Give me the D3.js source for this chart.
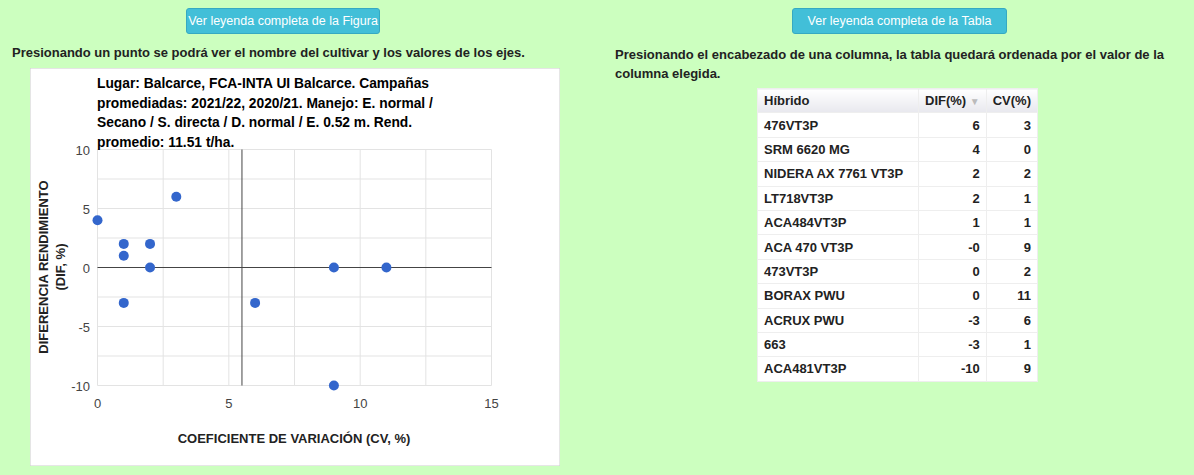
<!DOCTYPE html>
<html><head><meta charset="utf-8">
<script src="https://cdn.jsdelivr.net/npm/d3@7"></script>
<style>
body{margin:0;background:#ccffbf;font-family:Arial,"Liberation Sans",sans-serif;}
.btn{position:absolute;height:24px;line-height:24px;background:#42bfd8;color:#fff;font-size:12.5px;text-align:center;border-radius:3px;border:1px solid #36a9c2;white-space:nowrap;overflow:hidden;}
.note{position:absolute;font-size:13px;font-weight:bold;color:#222;line-height:19px;}
table{position:absolute;left:757px;top:88px;border-collapse:collapse;font-size:13px;font-weight:bold;color:#222;background:#fff;border:1px solid #ccc;}
td,th{height:23.4px;padding:0 6px;border:1px solid #eee;}
th{text-align:left;background:linear-gradient(#fff,#e8e8ee);font-weight:bold;}
td.n{text-align:right;}
</style></head><body>
<div class="btn" style="left:186px;top:8px;width:192px">Ver leyenda completa de la Figura</div>
<div class="btn" style="left:792px;top:8px;width:213px">Ver leyenda completa de la Tabla</div>
<div class="note" style="left:12px;top:43px">Presionando un punto se podrá ver el nombre del cultivar y los valores de los ejes.</div>
<div class="note" style="left:615px;top:45px;width:570px">Presionando el encabezado de una columna, la tabla quedará ordenada por el valor de la columna elegida.</div>
<svg id="c" style="position:absolute;left:30px;top:68px" width="530" height="398"></svg>
<table id="t"></table>
<script>
const hibridos=["476VT3P","SRM 6620 MG","NIDERA AX 7761 VT3P","LT718VT3P","ACA484VT3P","ACA 470 VT3P","473VT3P","BORAX PWU","ACRUX PWU","663","ACA481VT3P"];
const dif=[6,4,2,2,1,-0,0,0,-3,-3,-10];
const difLabel=["6","4","2","2","1","-0","0","0","-3","-3","-10"];
const cv=[3,0,2,1,1,9,2,11,6,1,9];
const xTicks=[0,5,10,15];
const yTicks=[-10,-5,0,5,10];
const titleLines=["Lugar: Balcarce, FCA-INTA UI Balcarce. Campañas","promediadas: 2021/22, 2020/21. Manejo: E. normal /","Secano / S. directa / D. normal / E. 0.52 m. Rend.","promedio: 11.51 t/ha."];
const cvRef=5.5;

const svg=d3.select("#c");
svg.append("rect").attr("width",530).attr("height",398).attr("fill","#fff").attr("stroke","#ccc");
const ox=-30,oy=-68;
const g=svg.append("g").attr("transform",`translate(${ox},${oy})`);
const x=d3.scaleLinear().domain([0,15]).range([97.5,491.5]);
const y=d3.scaleLinear().domain([-10,10]).range([385.5,149.5]);
d3.range(0,15.1,2.5).forEach(v=>g.append("line").attr("x1",x(v)).attr("x2",x(v)).attr("y1",y(-10)).attr("y2",y(10)).attr("stroke","#e3e3e3"));
d3.range(-10,10.1,2.5).forEach(v=>g.append("line").attr("y1",y(v)).attr("y2",y(v)).attr("x1",x(0)).attr("x2",x(15)).attr("stroke","#e3e3e3"));
g.append("line").attr("x1",x(0)).attr("x2",x(15)).attr("y1",y(0)).attr("y2",y(0)).attr("stroke","#444");
g.append("line").attr("x1",x(cvRef)).attr("x2",x(cvRef)).attr("y1",y(-10)).attr("y2",y(10)).attr("stroke","#444");
xTicks.forEach(v=>g.append("text").attr("x",x(v)).attr("y",408).attr("text-anchor","middle").attr("font-size",13).attr("fill","#444").text(v));
yTicks.forEach(v=>g.append("text").attr("x",90).attr("y",y(v)+5).attr("text-anchor","end").attr("font-size",13).attr("fill","#444").text(v));
cv.forEach((c,i)=>g.append("circle").attr("cx",x(c)).attr("cy",y(dif[i])).attr("r",5).attr("fill","#3366cc"));
titleLines.forEach((t,i)=>g.append("text").attr("x",97).attr("y",88+i*19.5).attr("font-size",13.8).attr("font-weight","bold").attr("fill","#000").text(t));
g.append("text").attr("x",294).attr("y",443).attr("text-anchor","middle").attr("font-size",13).attr("font-weight","bold").attr("fill","#222").text("COEFICIENTE DE VARIACIÓN (CV, %)");
const yl=g.append("text").attr("transform","translate(48,267) rotate(-90)").attr("text-anchor","middle").attr("font-size",13).attr("font-weight","bold").attr("fill","#222");
yl.append("tspan").attr("x",0).attr("dy",0).text("DIFERENCIA RENDIMIENTO");
yl.append("tspan").attr("x",0).attr("dy",17).text("(DIF, %)");

const t=d3.select("#t");
const h=t.append("tr");
h.append("th").style("width","148px").text("Híbrido");
h.append("th").style("text-align","right").html('DIF(%) <span style="color:#bbb;font-size:10px">▼</span>');
h.append("th").style("text-align","right").text("CV(%)");
hibridos.forEach((n,i)=>{const r=t.append("tr");r.append("td").text(n);r.append("td").attr("class","n").text(difLabel[i]);r.append("td").attr("class","n").text(cv[i]);});
</script></body></html>
